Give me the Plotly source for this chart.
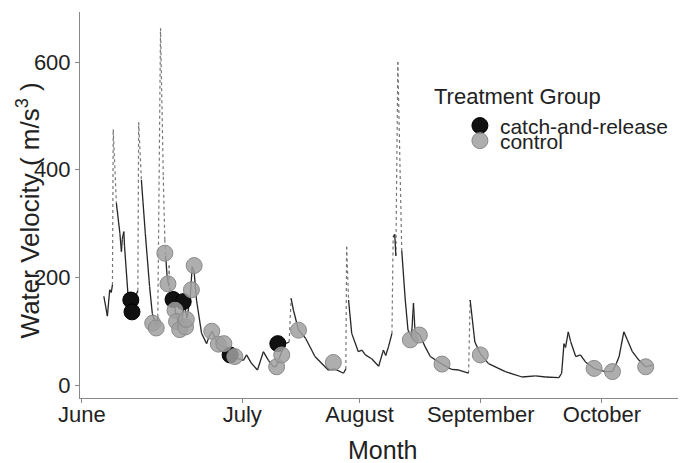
import plotly.graph_objects as go

# daily flow record (days counted from the "June" tick)
flow_day = [5.6, 6.5, 7.1, 7.5, 7.8, 8.0, 8.8, 9.7, 10.1, 10.3, 10.7, 10.9, 11.8, 12.2, 12.8,
            13.5, 14.3, 14.5, 15.2, 16.2, 17.3, 18.0, 18.6, 19.2, 19.4, 20.1, 20.8, 21.2, 21.4,
            21.8, 22.2, 22.3, 22.4, 23.3, 24.1, 24.9, 25.6, 26.1, 26.9, 27.7, 28.2, 28.7, 29.3,
            30.6, 31.9, 32.5, 33.3, 34.6, 36.1, 37.9, 39.5, 41.3, 42.1, 43.4, 44.9, 46.4, 47.7,
            49.0, 49.7, 51.0, 52.0, 53.0, 53.5, 54.1, 55.4, 57.2, 59.6, 63.0, 64.6, 66.9, 67.5,
            67.7, 68.2, 69.0, 70.7, 71.6, 72.5, 74.1, 75.9, 77.1, 77.7, 78.4, 79.3, 79.6, 80.0,
            80.3, 80.8, 81.8, 82.7, 83.4, 84.3, 84.8, 85.2, 86.4, 87.8, 89.1, 92.1, 94.6, 96.4,
            98.9, 99.3, 100.5, 101.9, 104.0, 108.3, 112.6, 116.0, 118.6, 122.0, 122.7, 123.3,
            123.7, 124.4, 125.0, 126.3, 127.5, 128.8, 131.0, 133.8, 135.7, 136.7, 137.4, 138.6,
            139.5, 140.8, 142.5, 144.2, 145.9]
flow_value = [165, 128, 177, 172, 186, 475, 338, 282, 248, 270, 285, 257, 165, 152, 138,
              161, 175, 488, 381, 282, 183, 133, 118, 110, 127, 663, 387, 270, 240,
              200, 185, 222, 180, 160, 130, 110, 120, 150, 125, 165, 220, 210, 158,
              96, 77, 90, 100, 78, 72, 56, 50, 46, 56, 40, 28, 62, 46,
              34, 35, 60, 77, 80, 161, 139, 102, 87, 53, 28, 30, 22, 30,
              257, 158, 96, 62, 65, 56, 49, 35, 65, 55, 71, 96, 275, 280,
              240, 600, 250, 158, 102, 90, 152, 100, 93, 71, 53, 39, 29, 28,
              22, 158, 80, 58, 40, 25, 15, 17, 15, 14, 22, 77,
              70, 99, 81, 53, 56, 43, 31, 25, 25, 40, 53, 99,
              84, 62, 46, 34, 37]

# fish observations by treatment group
cr_day = [12.5, 12.8, 23.3, 25.9, 37.9, 50.1]
cr_value = [158, 136, 159, 155, 56, 77]

ctrl_day = [18.1, 19.0, 21.2, 22.0, 23.8, 24.2, 25.0, 26.5, 26.7, 28.0, 28.7, 33.2, 34.9,
            36.3, 39.1, 49.8, 51.1, 55.4, 64.3, 84.0, 86.3, 92.1, 101.9, 131.0, 135.7, 144.2]
ctrl_value = [115, 106, 245, 188, 139, 118, 103, 108, 122, 177, 222, 100, 76,
              77, 53, 34, 56, 102, 42, 84, 93, 39, 56, 31, 25, 34]

month_tick_day = [0, 41, 71, 102, 133]
month_labels = ["June", "July", "August", "September", "October"]

font = "Liberation Sans, Arial, sans-serif"

# steep parts of the record show up as sparse dots in the original, the rest as a solid line
solid_x, solid_y, steep_x, steep_y = [], [], [], []
for i in range(len(flow_day) - 1):
    x0, x1 = flow_day[i], flow_day[i + 1]
    y0, y1 = flow_value[i], flow_value[i + 1]
    if abs(y1 - y0) / (x1 - x0) > 150:
        steep_x += [x0, x1, None]
        steep_y += [y0, y1, None]
    else:
        solid_x += [x0, x1, None]
        solid_y += [y0, y1, None]

fig = go.Figure()

fig.add_trace(go.Scatter(
    x=steep_x, y=steep_y, mode="lines",
    line=dict(color="#777777", width=1.2, dash="dot"),
    showlegend=False, hoverinfo="skip",
))
fig.add_trace(go.Scatter(
    x=solid_x, y=solid_y, mode="lines",
    line=dict(color="#262626", width=1.3),
    showlegend=False, hoverinfo="skip",
))
fig.add_trace(go.Scatter(
    x=cr_day, y=cr_value, mode="markers", name="catch-and-release",
    marker=dict(size=16, color="#111111", line=dict(color="#000000", width=1)),
    legend="legend",
))
fig.add_trace(go.Scatter(
    x=ctrl_day, y=ctrl_value, mode="markers", name="control",
    marker=dict(size=16, color="rgba(160,160,160,0.85)", line=dict(color="#8a8a8a", width=1)),
    legend="legend2",
))

leg = dict(
    xanchor="left", yanchor="top", bgcolor="rgba(0,0,0,0)",
    font=dict(family=font, size=21, color="#222"),
    itemwidth=30, tracegroupgap=0,
)

# the page adds an 8px body margin, so the figure is 8px smaller than the window
fig.update_layout(
    width=678, height=455,
    margin=dict(l=72, r=2, t=4, b=65),
    template="simple_white",
    paper_bgcolor="white", plot_bgcolor="white",
    font=dict(family=font, color="#222"),
    legend=dict(leg, x=0.629, y=0.758),
    legend2=dict(leg, x=0.629, y=0.719),
    xaxis=dict(
        range=[-0.5, 154], tickvals=month_tick_day, ticktext=month_labels,
        showline=True, linecolor="#888", linewidth=1,
        ticks="outside", ticklen=4, tickcolor="#888",
        tickfont=dict(size=22, color="#222"), ticklabelstandoff=-7,
        showgrid=False, zeroline=False,
    ),
    yaxis=dict(
        range=[-24, 693], tickvals=[0, 200, 400, 600],
        showline=True, linecolor="#888", linewidth=1,
        ticks="outside", ticklen=4, tickcolor="#888",
        tickfont=dict(size=22, color="#222"),
        showgrid=False, zeroline=False,
    ),
    annotations=[
        dict(text="Water Velocity ( m/s<sup>3</sup> )", textangle=-90,
             x=-0.085, y=0.485, xref="paper", yref="paper",
             xanchor="center", yanchor="middle", showarrow=False,
             font=dict(size=26, color="#222", family=font)),
        dict(text="Month", x=0.5, y=-0.135, xref="paper", yref="paper",
             xanchor="center", yanchor="middle", showarrow=False,
             font=dict(size=25, color="#222", family=font)),
        dict(text="Treatment Group", x=0.583, y=0.78, xref="paper", yref="paper",
             xanchor="left", yanchor="middle", showarrow=False,
             font=dict(size=22, color="#222", family=font)),
    ],
)

fig.write_html("out.html")
